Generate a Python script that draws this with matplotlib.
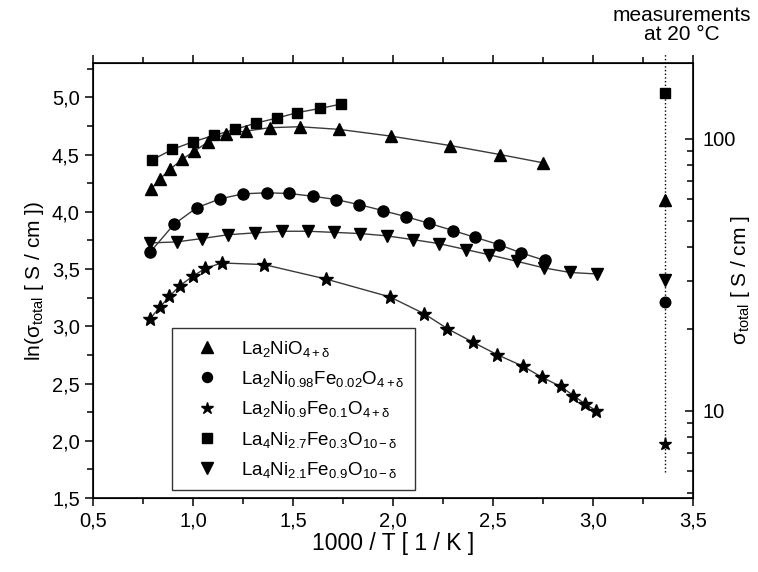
import numpy as np
import matplotlib.pyplot as plt
from matplotlib.ticker import MultipleLocator, FuncFormatter, LogLocator, NullFormatter

plt.rcParams['font.family'] = ['Liberation Sans', 'DejaVu Sans']
plt.rcParams['mathtext.fontset'] = 'custom'
plt.rcParams['mathtext.rm'] = 'Liberation Sans'
plt.rcParams['mathtext.it'] = 'Liberation Sans:italic'
plt.rcParams['mathtext.sf'] = 'Liberation Sans'

# La2NiO4+d  (triangles up)
x_tri = [0.789, 0.835, 0.885, 0.944, 1.007, 1.077, 1.165, 1.264, 1.385, 1.535, 1.73, 1.99, 2.285, 2.535, 2.75]
y_tri = [4.195, 4.288, 4.37, 4.457, 4.53, 4.612, 4.682, 4.705, 4.735, 4.743, 4.72, 4.661, 4.579, 4.50, 4.428]

# La2Ni0.98Fe0.02O4+d  (circles)
x_circ = [0.785, 0.905, 1.018, 1.135, 1.25, 1.368, 1.48, 1.598, 1.715, 1.83, 1.948, 2.063, 2.18, 2.30, 2.41, 2.53, 2.64, 2.76]
y_circ = [3.646, 3.891, 4.035, 4.113, 4.157, 4.166, 4.16, 4.136, 4.107, 4.063, 4.011, 3.958, 3.90, 3.836, 3.777, 3.713, 3.641, 3.575]

# La2Ni0.9Fe0.1O4+d  (stars)
x_star = [0.785, 0.835, 0.882, 0.935, 0.998, 1.062, 1.143, 1.355, 1.664, 1.985, 2.155, 2.272, 2.398, 2.522, 2.652, 2.743, 2.838, 2.902, 2.96, 3.015]
y_star = [3.066, 3.168, 3.261, 3.355, 3.436, 3.506, 3.553, 3.539, 3.413, 3.256, 3.11, 2.979, 2.862, 2.751, 2.649, 2.556, 2.474, 2.395, 2.322, 2.264]

# La4Ni2.7Fe0.3O10-d  (squares)
x_sq = [0.793, 0.897, 1.00, 1.105, 1.21, 1.315, 1.42, 1.52, 1.635, 1.74]
y_sq = [4.451, 4.545, 4.612, 4.667, 4.72, 4.775, 4.819, 4.866, 4.903, 4.941]

# La4Ni2.1Fe0.9O10-d  (triangles down)
x_dtri = [0.785, 0.918, 1.043, 1.177, 1.31, 1.443, 1.577, 1.707, 1.835, 1.968, 2.10, 2.23, 2.365, 2.48, 2.62, 2.755, 2.885, 3.018]
y_dtri = [3.728, 3.737, 3.766, 3.80, 3.816, 3.83, 3.83, 3.82, 3.81, 3.79, 3.757, 3.722, 3.67, 3.625, 3.567, 3.51, 3.47, 3.457]

# measurements at 20 °C (same order as series)
x_rt = 3.36
y_rt = [4.10, 3.21, 1.97, 5.04, 3.40]

labels = [r'La$_2$NiO$_{4+\mathrm{\delta}}$',
          r'La$_2$Ni$_{0.98}$Fe$_{0.02}$O$_{4+\mathrm{\delta}}$',
          r'La$_2$Ni$_{0.9}$Fe$_{0.1}$O$_{4+\mathrm{\delta}}$',
          r'La$_4$Ni$_{2.7}$Fe$_{0.3}$O$_{10-\mathrm{\delta}}$',
          r'La$_4$Ni$_{2.1}$Fe$_{0.9}$O$_{10-\mathrm{\delta}}$']
markers = ['^', 'o', '*', 's', 'v']
msizes = [9, 8, 10, 7.5, 9]

series = [(x_tri, y_tri), (x_circ, y_circ), (x_star, y_star), (x_sq, y_sq), (x_dtri, y_dtri)]

fig = plt.figure(figsize=(7.58, 5.72), dpi=100)
ax = fig.add_axes([0.1227, 0.1294, 0.7916, 0.7605])

handles = []
for (xs, ys), m, ms, lab, yr in zip(series, markers, msizes, labels, y_rt):
    ax.plot(xs, ys, '-', color='#3a3a3a', lw=1.0, zorder=2)
    h, = ax.plot(xs, ys, m, ls='none', color='black', ms=ms, zorder=3, label=lab)
    ax.plot(x_rt, yr, m, color='black', ms=ms * 0.95, zorder=3)
    handles.append(h)

# dashed guide for the 20 °C values, runs up past the frame
ax.plot([x_rt, x_rt], [1.73, 5.38], ':', color='black', lw=1.0, zorder=1, clip_on=False)

ax.set_xlim(0.5, 3.5)
ax.set_ylim(1.5, 5.3)
ax.xaxis.set_major_locator(MultipleLocator(0.5))
ax.xaxis.set_minor_locator(MultipleLocator(0.25))
ax.yaxis.set_major_locator(MultipleLocator(0.5))
ax.yaxis.set_minor_locator(MultipleLocator(0.25))
komma = FuncFormatter(lambda v, p: f'{v:.1f}'.replace('.', ','))
ax.xaxis.set_major_formatter(komma)
ax.yaxis.set_major_formatter(komma)
ax.tick_params(which='both', direction='out', top=True, right=False, labelsize=14.5, width=1.1)
ax.tick_params(which='major', length=6)
ax.tick_params(which='minor', length=4)
for s in ax.spines.values():
    s.set_linewidth(1.2)

ax.set_xlabel('1000 / T [ 1 / K ]', fontsize=16.5, labelpad=1)
ax.set_ylabel(r'ln(σ$_\mathrm{total}$ [ S / cm ])', fontsize=15, labelpad=4)

ax2 = ax.twinx()
ax2.set_yscale('log')
ax2.set_ylim(4.79, 190)
ax2.yaxis.set_major_locator(LogLocator(base=10))
ax2.yaxis.set_minor_locator(LogLocator(base=10, subs=np.arange(2, 10)))
ax2.yaxis.set_major_formatter(FuncFormatter(lambda v, p: f'{v:g}'))
ax2.yaxis.set_minor_formatter(NullFormatter())
ax2.tick_params(which='both', direction='in', labelsize=14.5, width=1.1, pad=7)
ax2.tick_params(which='major', length=6)
ax2.tick_params(which='minor', length=4)
ax2.set_ylabel(r'σ$_\mathrm{total}$ [ S / cm ]', fontsize=15)
ax2.yaxis.set_label_coords(1.06, 0.5)

leg = ax.legend(handles=handles, loc='lower left', bbox_to_anchor=(0.132, 0.018),
                fontsize=13.5, frameon=True, fancybox=False, edgecolor='black',
                handlelength=2.6, handletextpad=0.5, labelspacing=0.55,
                borderaxespad=0, borderpad=0.55, markerscale=0.9)
leg.get_frame().set_linewidth(1.0)

fig.text(682 / 758, 1 - 25 / 572, 'measurements\nat 20 °C', ha='center', va='center',
         fontsize=15, linespacing=0.95)

fig.savefig('out.png', dpi=100)
